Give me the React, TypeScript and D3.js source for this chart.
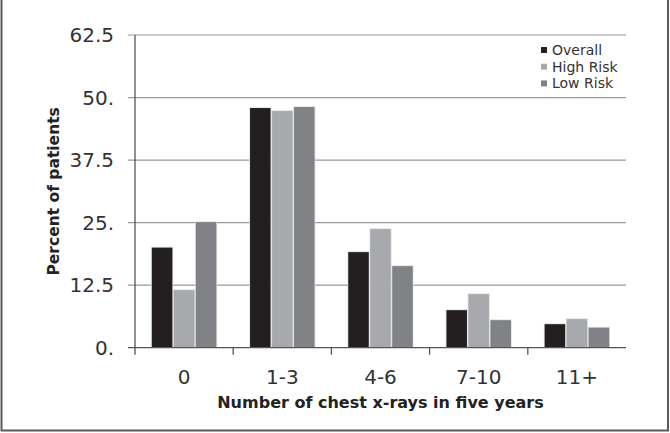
import React from "react";
import * as d3 from "d3";

const categories = ["0", "1-3", "4-6", "7-10", "11+"];
const seriesNames = ["Overall", "High Risk", "Low Risk"];
const overall = [20.0, 47.9, 19.1, 7.5, 4.7];
const highRisk = [11.5, 47.3, 23.7, 10.7, 5.7];
const lowRisk = [25.1, 48.1, 16.3, 5.5, 4.0];
const yTicks = [0, 12.5, 25, 37.5, 50, 62.5];
const yTickLabels = ["0.", "12.5", "25.", "37.5", "50.", "62.5"];
const colors = ["#231f20", "#a7a9ac", "#808285"];

const W = 670;
const H = 433;
const left = 135;
const right = 626;
const top = 35;
const bottom = 347.7;
const font = "'DejaVu Sans', Verdana, sans-serif";

export default function App() {
  const series = [overall, highRisk, lowRisk];
  const x = d3.scaleBand<string>().domain(categories).range([left, right]).paddingInner(0).paddingOuter(0);
  const inner = d3
    .scaleBand<string>()
    .domain(seriesNames)
    .range([0, x.bandwidth()])
    .paddingInner(0.068)
    .paddingOuter(0.766);
  const y = d3.scaleLinear().domain([0, 62.5]).range([bottom, top]);

  return (
    <svg width={W} height={H} style={{ position: "absolute", left: 0, top: 0 }} fontFamily={font}>
      <rect x={0} y={0} width={W} height={H} fill="#fff" />
      <rect x={1.5} y={-2} width={666.5} height={432.5} fill="none" stroke="#5a5a5a" strokeWidth={2} />
      {/* gridlines */}
      {yTicks.map((t, i) =>
        t === 0 ? null : (
          <line key={"g" + i} x1={left - 7} x2={right} y1={y(t)} y2={y(t)} stroke="#9a9a9a" strokeWidth={1.2} />
        )
      )}
      {/* bars */}
      {categories.map((c, ci) =>
        seriesNames.map((s, si) => {
          const bx = (x(c) as number) + (inner(s) as number);
          const bw = inner.bandwidth();
          const v = series[si][ci];
          return (
            <g key={c + s}>
              <rect x={bx - 0.8} y={y(v) - 0.8} width={bw + 1.6} height={bottom - y(v) + 0.8} fill="#dedede" />
              <rect x={bx} y={y(v)} width={bw} height={bottom - y(v)} fill={colors[si]} />
            </g>
          );
        })
      )}
      {/* axes */}
      <line x1={left} x2={left} y1={top} y2={bottom} stroke="#555" strokeWidth={1.3} />
      <line x1={left - 7} x2={right} y1={bottom} y2={bottom} stroke="#555" strokeWidth={1.3} />
      {categories.map((c, ci) => (
        <line key={"t" + ci} x1={x(c) as number} x2={x(c) as number} y1={bottom} y2={bottom + 7} stroke="#555" strokeWidth={1.3} />
      ))}
      {yTicks.map((t, i) => (
        <text key={"yl" + i} x={114} y={y(t)} dy="0.36em" textAnchor="end" fontSize={20} fill="#333">
          {yTickLabels[i]}
        </text>
      ))}
      {categories.map((c) => (
        <text key={"xl" + c} x={(x(c) as number) + x.bandwidth() / 2} y={384} textAnchor="middle" fontSize={20} fill="#333">
          {c}
        </text>
      ))}
      <text x={(left + right) / 2} y={408} textAnchor="middle" fontSize={16} fontWeight="bold" fill="#222">
        Number of chest x-rays in five years
      </text>
      <text
        transform={`translate(59,${(top + bottom) / 2}) rotate(-90)`}
        textAnchor="middle"
        fontSize={15.5}
        fontWeight="bold"
        fill="#222"
      >
        Percent of patients
      </text>
      {/* legend */}
      {seriesNames.map((s, i) => (
        <g key={"lg" + s} transform={`translate(541,${50 + i * 16.7})`}>
          <rect x={0} y={-3} width={6} height={6} fill={colors[i]} />
          <text x={11} y={0} dy="0.36em" fontSize={14} fill="#333">
            {s}
          </text>
        </g>
      ))}
    </svg>
  );
}
